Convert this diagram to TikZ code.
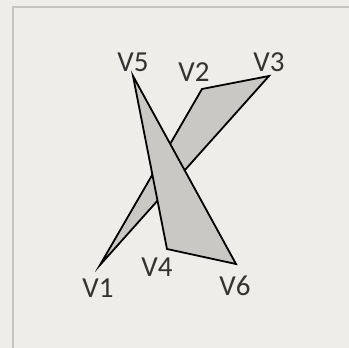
\documentclass[tikz,border=0pt]{standalone}
\usepackage{fontspec}
\setmainfont{Carlito}
\usetikzlibrary{positioning}

\definecolor{paper}{RGB}{239,237,233}
\definecolor{frameline}{RGB}{196,196,194}
\definecolor{facegray}{RGB}{201,200,196}

\begin{document}
\begin{tikzpicture}[x=1pt, y=-1pt, every node/.style={font=\fontsize{29}{32}\selectfont, text=black!80}]
    \tikzstyle{face}=[draw=black, fill=facegray, line width=1.8pt, line join=miter]
    \tikzstyle{vlabel}=[inner sep=0pt]

    \fill[paper] (0,0) rectangle (349,348);
    \useasboundingbox (0,0) rectangle (349,348);
    \draw[frameline, line width=2pt] (13,360) -- (13,7) -- (360,7);

    \coordinate (v1) at (100,265);
    \coordinate (v2) at (202,89);
    \coordinate (v3) at (269,76);
    \coordinate (v4) at (167,249);
    \coordinate (v5) at (133,76);
    \coordinate (v6) at (236,264);

    % back triangle, then front one
    \draw[face] (v1) -- (v2) -- (v3) -- cycle;
    \draw[face] (v5) -- (v4) -- (v6) -- cycle;

    \node[vlabel] (l1) at (98,288) {V1};
    \node[vlabel] (l2) at (194,72) {V2};
    \node[vlabel] (l3) at (269,62) {V3};
    \node[vlabel] (l4) at (157,267) {V4};
    \node[vlabel] (l5) at (133,62) {V5};
    \node[vlabel] (l6) at (235,286) {V6};
\end{tikzpicture}
\end{document}
